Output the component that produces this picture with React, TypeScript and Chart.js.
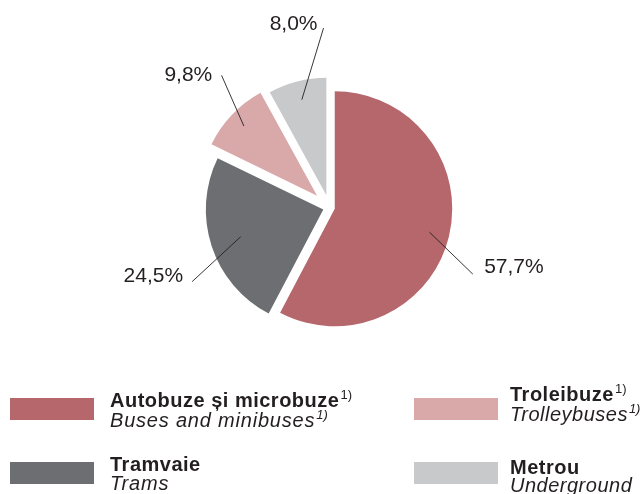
import React, { useEffect, useRef } from "react";
import { Chart, registerables } from "chart.js";

Chart.register(...registerables);

// ---- Data ----
const categories = ["Autobuze și microbuze", "Tramvaie", "Troleibuze", "Metrou"];
const categoriesEn = ["Buses and minibuses", "Trams", "Trolleybuses", "Underground"];
const footnotes = ["1)", "", "1)", ""];
const shares = [57.7, 24.5, 9.8, 8.0];

// ---- Styles ----
const colors = ["#b5676c", "#6d6e72", "#d9a9aa", "#c8c9cb"];
const textColor = "#231f20";
const explode = [5.4, 6.5, 17.1, 12.6];
const leaderInner = [0.83, 0.74, 0.86, 0.84];
const leaderVec: [number, number][] = [
  [43.4, 42],
  [-48.6, 45],
  [-22.3, -50.7],
  [21.7, -71.6],
];
const labelAlign: CanvasTextAlign[] = ["left", "right", "right", "right"];
const labelDx = [11.3, -9, -9.3, -6];
const labelDy = [-1.3, 0.3, 5.7, 1.6];

const legendSwatchX = [10, 10, 414, 414];
const legendSwatchY = [398, 462, 398, 462];
const legendTextX = [110, 110, 510, 510];
const legendBoldBase = [407, 470.7, 401, 473.5];
const legendItalicBase = [426.5, 489.5, 420.5, 492];

const FONT = '"Liberation Sans", Arial, Helvetica, sans-serif';

const fmt = (v: number) => v.toFixed(1).replace(".", ",") + "%";

const explodePlugin = {
  id: "explodeSlices",
  afterDatasetUpdate(chart: any, args: any) {
    const meta = args.meta;
    meta.data.forEach((el: any, i: number) => {
      const mid = (el.startAngle + el.endAngle) / 2;
      el.x += Math.cos(mid) * explode[i];
      el.y += Math.sin(mid) * explode[i];
    });
  },
};

const labelPlugin = {
  id: "leaderLabels",
  afterDatasetsDraw(chart: any) {
    const ctx: CanvasRenderingContext2D = chart.ctx;
    const meta = chart.getDatasetMeta(0);
    ctx.save();
    meta.data.forEach((el: any, i: number) => {
      const mid = (el.startAngle + el.endAngle) / 2;
      const r = el.outerRadius * leaderInner[i];
      const x0 = el.x + Math.cos(mid) * r;
      const y0 = el.y + Math.sin(mid) * r;
      const x1 = x0 + leaderVec[i][0];
      const y1 = y0 + leaderVec[i][1];
      ctx.strokeStyle = textColor;
      ctx.lineWidth = 0.9;
      ctx.beginPath();
      ctx.moveTo(x0, y0);
      ctx.lineTo(x1, y1);
      ctx.stroke();
      ctx.fillStyle = textColor;
      ctx.font = `21px ${FONT}`;
      ctx.textAlign = labelAlign[i];
      ctx.textBaseline = "alphabetic";
      ctx.fillText(fmt(shares[i]), x1 + labelDx[i], y1 + labelDy[i]);
    });
    ctx.restore();
  },
};

const legendPlugin = {
  id: "customLegend",
  afterDraw(chart: any) {
    const ctx: any = chart.ctx;
    ctx.save();
    ctx.textAlign = "left";
    ctx.textBaseline = "alphabetic";
    categories.forEach((name, i) => {
      ctx.fillStyle = colors[i];
      ctx.fillRect(legendSwatchX[i], legendSwatchY[i], 84, 22);
      ctx.fillStyle = textColor;
      // bold line
      ctx.letterSpacing = "0.5px";
      ctx.font = `bold 20px ${FONT}`;
      ctx.fillText(name, legendTextX[i], legendBoldBase[i]);
      let w = ctx.measureText(name).width;
      if (footnotes[i]) {
        ctx.letterSpacing = "0px";
        ctx.font = `13px ${FONT}`;
        ctx.fillText(footnotes[i], legendTextX[i] + w + 1, legendBoldBase[i] - 8);
      }
      // italic line
      ctx.letterSpacing = i >= 2 ? "0.5px" : "0.8px";
      ctx.font = `italic 20px ${FONT}`;
      ctx.fillText(categoriesEn[i], legendTextX[i], legendItalicBase[i]);
      w = ctx.measureText(categoriesEn[i]).width;
      if (footnotes[i]) {
        ctx.letterSpacing = "0px";
        ctx.font = `italic 13px ${FONT}`;
        ctx.fillText(footnotes[i], legendTextX[i] + w + 1, legendItalicBase[i] - 8);
      }
    });
    ctx.restore();
  },
};

export default function App() {
  const ref = useRef<HTMLCanvasElement | null>(null);

  useEffect(() => {
    document.body.style.margin = "0";
    const canvas = ref.current;
    if (!canvas) return;
    const chart = new Chart(canvas, {
      type: "pie",
      data: {
        labels: categories,
        datasets: [
          {
            data: shares,
            backgroundColor: colors,
            borderWidth: 0,
            hoverOffset: 0,
          },
        ],
      },
      options: {
        responsive: false,
        animation: false,
        events: [],
        radius: 117.5,
        layout: { padding: { left: 16, right: 0, top: 0, bottom: 79 } },
        plugins: {
          legend: { display: false },
          tooltip: { enabled: false },
        },
      } as any,
      plugins: [explodePlugin, labelPlugin, legendPlugin],
    });
    return () => chart.destroy();
  }, []);

  return (
    <canvas
      ref={ref}
      width={643}
      height={494}
      style={{ display: "block", width: 643, height: 494 }}
    />
  );
}
